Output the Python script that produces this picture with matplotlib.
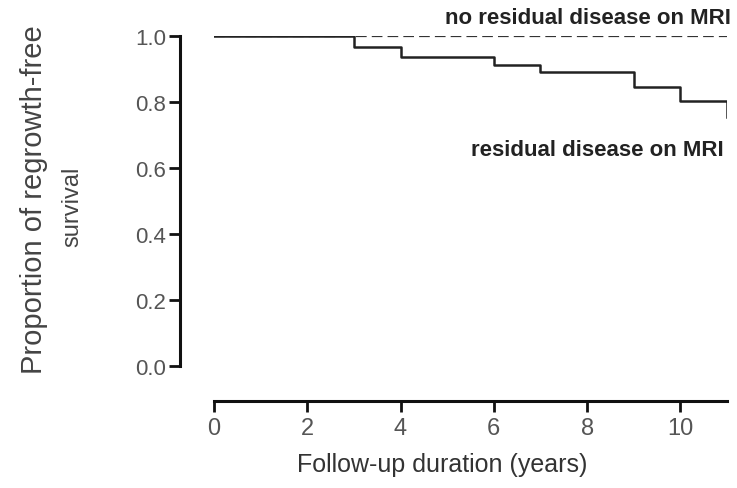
import matplotlib
matplotlib.use("Agg")
import matplotlib.pyplot as plt

# Kaplan-Meier style step data
years_resid = [0, 3, 4, 6, 7, 9, 10, 11]
surv_resid = [1.0, 0.967, 0.935, 0.913, 0.891, 0.847, 0.803, 0.755]
years_none = [0, 11]
surv_none = [1.0, 1.0]

x_ticks = [0, 2, 4, 6, 8, 10]
y_ticks = [0.0, 0.2, 0.4, 0.6, 0.8, 1.0]

plt.rcParams["font.family"] = ["Liberation Sans", "DejaVu Sans"]

fig = plt.figure(figsize=(7.37, 4.89), dpi=100)
ax = fig.add_axes([0.2904, 0.2495, 0.696, 0.6748])

ax.plot(years_none, surv_none, color="#333333", lw=1.6, ls=(0, (4.8, 2.3)))
ax.plot(years_resid, surv_resid, color="#222222", lw=1.8, drawstyle="steps-post")

ax.set_xlim(0, 11)
ax.set_ylim(0, 1)
ax.set_xticks(x_ticks)
ax.set_yticks(y_ticks)
ax.set_yticklabels([f"{v:.1f}" for v in y_ticks])

for side in ("top", "right"):
    ax.spines[side].set_visible(False)
ax.spines["left"].set_position(("outward", 24.5))
ax.spines["bottom"].set_position(("outward", 25))
for side in ("left", "bottom"):
    ax.spines[side].set_linewidth(2.2)
    ax.spines[side].set_color("#111111")
ax.tick_params(axis="both", direction="out", length=8, width=2.0,
               color="#111111", labelcolor="#555555")
ax.tick_params(axis="y", labelsize=16, pad=2)
ax.tick_params(axis="x", labelsize=17, pad=4)

fig.text(0.60, 0.049, "Follow-up duration (years)", fontsize=18,
         color="#333333", ha="center", va="center")
fig.text(0.046, 0.591, "Proportion of regrowth-free", rotation=90, fontsize=21,
         color="#444444", ha="center", va="center")
fig.text(0.098, 0.577, "survival", rotation=90, fontsize=17,
         color="#444444", ha="center", va="center")

fig.text(731 / 737, 1 - 19 / 489, "no residual disease on MRI", fontsize=16,
         fontweight="bold", color="#222222", ha="right", va="center")
fig.text(724 / 737, 1 - 150 / 489, "residual disease on MRI", fontsize=16,
         fontweight="bold", color="#222222", ha="right", va="center")

fig.savefig("out.png", dpi=100)
